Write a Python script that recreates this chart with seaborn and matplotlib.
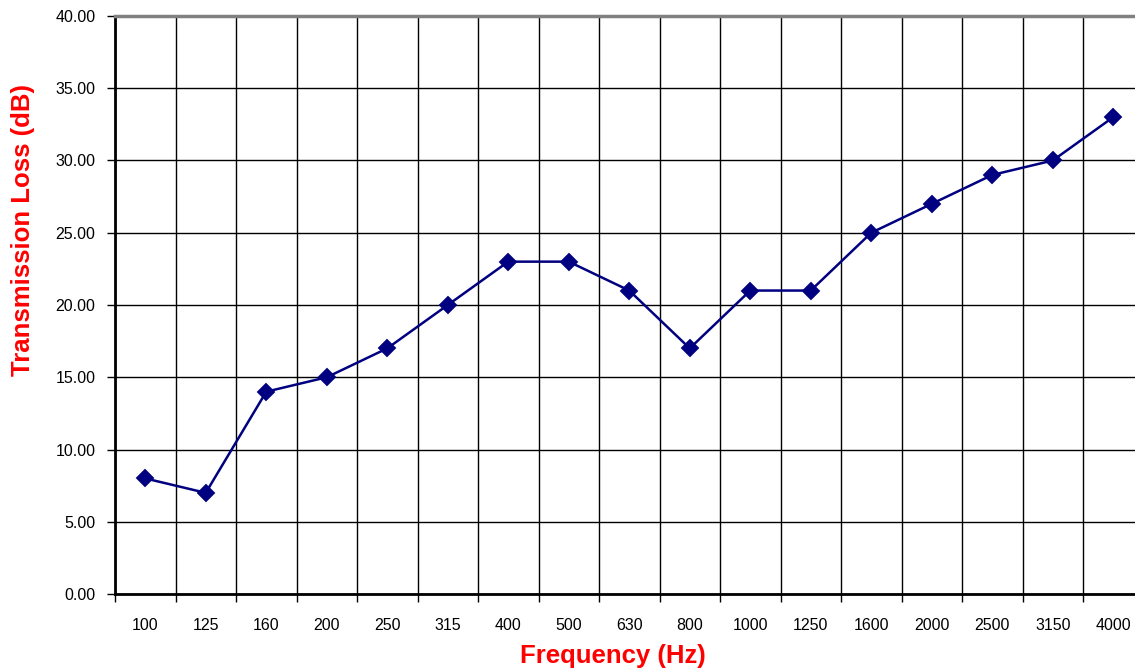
import numpy as np
import matplotlib
matplotlib.use("Agg")
import matplotlib.pyplot as plt
import seaborn as sns

# Data
frequencies = ["100", "125", "160", "200", "250", "315", "400", "500", "630",
               "800", "1000", "1250", "1600", "2000", "2500", "3150", "4000"]
transmission_loss = [8, 7, 14, 15, 17, 20, 23, 23, 21, 17, 21, 21, 25, 27, 29, 30, 33]
y_ticks = [0, 5, 10, 15, 20, 25, 30, 35, 40]

sns.set_style("white")
plt.rcParams["font.family"] = ["Liberation Sans", "DejaVu Sans"]

fig = plt.figure(figsize=(11.35, 6.71), dpi=100)
# plot area runs past the right edge of the image, as in the reference
ax = fig.add_axes([115 / 1135, 77 / 671, 1028.5 / 1135, 578 / 671])

sns.pointplot(x=frequencies, y=transmission_loss, color="#000080",
              markers="D", linestyles="-", markersize=8.5, linewidth=1.8,
              ax=ax, zorder=3)

n = len(frequencies)
ax.set_xlim(-0.5, n - 0.5)
ax.set_ylim(0, 40)
ax.set_yticks(y_ticks)
ax.set_yticklabels([f"{v:.2f}" for v in y_ticks])
ax.set_xticks(np.arange(n))
ax.set_xticklabels(frequencies)
ax.set_xticks(np.arange(-0.5, n), minor=True)

# grid: vertical lines on category boundaries, horizontal on y ticks
ax.grid(False)
ax.grid(True, which="minor", axis="x", color="black", linewidth=1.0)
ax.grid(True, which="major", axis="y", color="black", linewidth=1.0)
ax.set_axisbelow(True)

ax.tick_params(axis="x", which="major", length=0, pad=17, labelsize=11.5,
               labelcolor="black")
ax.tick_params(axis="x", which="minor", length=6, width=1.0, direction="out",
               color="black", bottom=True)
ax.tick_params(axis="y", length=6, width=1.0, direction="out", color="black",
               left=True, labelsize=11.5, labelcolor="black", pad=8)

for side in ["left", "bottom"]:
    ax.spines[side].set_color("black")
    ax.spines[side].set_linewidth(2)
ax.spines["top"].set_color("#808080")
ax.spines["top"].set_linewidth(2.5)
ax.spines["right"].set_visible(False)

ax.set_xlabel("Frequency (Hz)", color="red", fontsize=18.5, fontweight="bold")
ax.set_ylabel("Transmission Loss (dB)", color="red", fontsize=18.5, fontweight="bold")
ax.xaxis.set_label_coords(0.484, -0.086)
ax.yaxis.set_label_coords(-0.078, 0.63)

fig.savefig("out.png", dpi=100)
